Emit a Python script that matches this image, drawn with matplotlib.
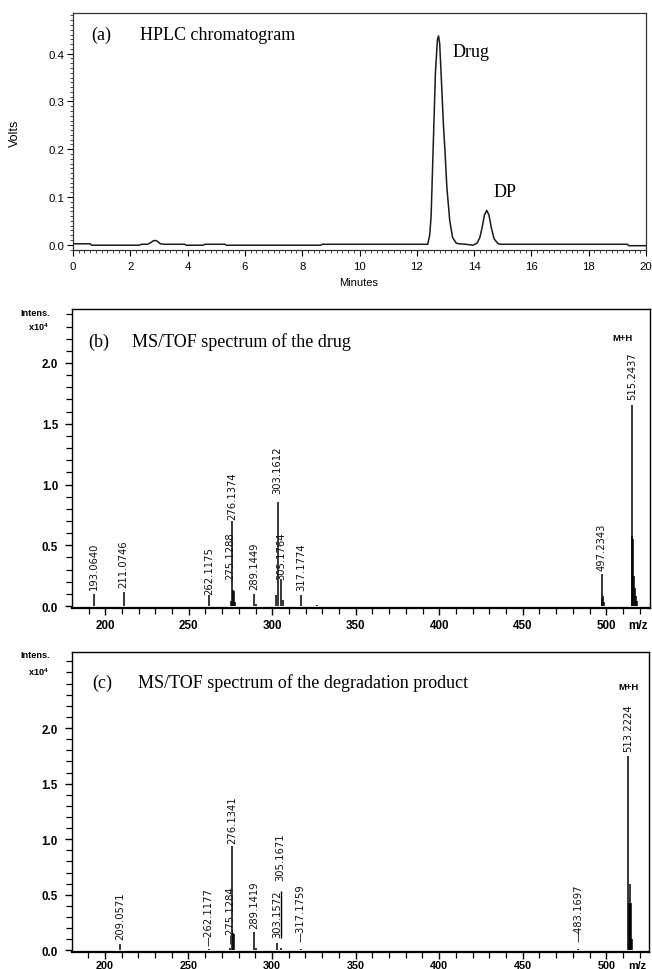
import matplotlib
matplotlib.use('Agg')
import matplotlib.pyplot as plt
from matplotlib.ticker import MultipleLocator

plt.rcParams['mathtext.fontset'] = 'custom'
plt.rcParams['mathtext.rm'] = 'Liberation Sans'
plt.rcParams['mathtext.bf'] = 'Liberation Sans:bold'

SERIF = 'Liberation Serif'
SANS = 'Liberation Sans'
LAB = 'DejaVu Sans'

# ---------------- (a) HPLC chromatogram ----------------
t_min = [0.0, 0.6, 0.65, 2.3, 2.4, 2.6, 2.7, 2.8, 2.88, 2.95, 3.05, 3.2, 3.9, 3.95,
         4.55, 4.6, 5.3, 5.35, 8.65, 8.7, 12.38, 12.45, 12.5, 12.57, 12.65, 12.72,
         12.76, 12.8, 12.87, 12.93, 12.98, 13.05, 13.15, 13.25, 13.38, 13.5, 13.85,
         13.95, 14.1, 14.2, 14.28, 14.36, 14.44, 14.52, 14.6, 14.7, 14.84, 14.95,
         19.35, 19.4, 20.0]
volts = [0.002, 0.002, -0.001, -0.001, 0.001, 0.001, 0.004, 0.008, 0.009, 0.007,
         0.002, 0.001, 0.001, -0.001, -0.001, 0.001, 0.001, -0.001, -0.001, 0.001,
         0.001, 0.02, 0.06, 0.2, 0.36, 0.43, 0.437, 0.42, 0.33, 0.25, 0.2, 0.12,
         0.05, 0.015, 0.003, 0.002, 0.0, -0.001, 0.003, 0.015, 0.036, 0.062, 0.072,
         0.062, 0.036, 0.012, 0.002, 0.001, 0.001, -0.002, -0.002]
a_xticks = [0, 2, 4, 6, 8, 10, 12, 14, 16, 18, 20]
a_yticks = [0.0, 0.1, 0.2, 0.3, 0.4]

# ---------------- (b) MS/TOF spectrum of the drug ----------------
mz_b = [193.06, 211.07, 262.12, 275.13, 276.14, 276.6, 277.14, 277.6, 289.14, 290.15,
        302.2, 303.16, 305.18, 306.18, 317.18, 327.0, 497.23, 497.7, 498.24, 498.7,
        515.24, 515.7, 516.25, 516.7, 517.25, 517.7, 518.25]
int_b = [0.10, 0.115, 0.09, 0.04, 0.70, 0.13, 0.12, 0.03, 0.10, 0.02,
         0.09, 0.855, 0.22, 0.05, 0.09, 0.01, 0.265, 0.06, 0.08, 0.03,
         1.655, 0.58, 0.55, 0.25, 0.15, 0.08, 0.04]
lab_b_mz = [193.064, 211.0746, 262.1175, 275.1288, 276.1374, 289.1449, 303.1612,
            305.1764, 317.1774, 497.2343, 515.2437]
lab_b_y = [0.14, 0.16, 0.10, 0.22, 0.72, 0.14, 0.93, 0.22, 0.13, 0.30, 1.70]
lab_b_txt = ['193.0640', '211.0746', '262.1175', '275.1288', '276.1374', '289.1449',
             '303.1612', '305.1764', '317.1774', '497.2343', '515.2437']

# ---------------- (c) MS/TOF spectrum of the degradation product ----------------
mz_c = [209.06, 262.12, 275.13, 276.13, 276.6, 277.14, 289.14, 290.14, 303.16, 305.17,
        317.18, 483.17, 513.22, 513.6, 514.0, 514.23, 514.6, 515.0, 515.23]
int_c = [0.057, 0.01, 0.02, 0.935, 0.16, 0.15, 0.165, 0.02, 0.066, 0.02,
         0.01, 0.01, 1.75, 0.43, 0.43, 0.60, 0.43, 0.10, 0.10]
lab_c_mz = [209.0571, 262.1177, 275.1284, 276.1341, 289.1419, 303.1572, 305.1671,
            317.1759, 483.1697, 513.2224]
lab_c_y = [0.10, 0.05, 0.066, 0.97, 0.20, 0.12, 0.635, 0.08, 0.08, 1.79]
lab_c_txt = ['209.0571', '\u2014262.1177', '\u2014275.1284', '276.1341', '289.1419',
             '303.1572', '305.1671', '\u2014317.1759', '\u2014483.1697', '513.2224']
lead_c_mz = [305.17]
lead_c_y0 = [0.11]
lead_c_y1 = [0.53]

ms_xticks = [200, 250, 300, 350, 400, 450, 500]
ms_yticks = [0.0, 0.5, 1.0, 1.5, 2.0]

W, H = 652.0, 970.0


def box(l, t, r, b):
    return [l / W, 1 - b / H, (r - l) / W, (b - t) / H]


fig = plt.figure(figsize=(6.52, 9.70), dpi=100)

# ---- panel (a)
axa = fig.add_axes(box(73, 14, 646, 251))
axa.plot(t_min, volts, color='#1a1a1a', lw=1.1)
axa.set_xlim(0, 20)
axa.set_ylim(-0.011, 0.485)
axa.set_xticks(a_xticks)
axa.set_xticklabels([str(v) for v in a_xticks])
axa.set_yticks(a_yticks)
axa.set_yticklabels(['%.1f' % v for v in a_yticks])
axa.xaxis.set_minor_locator(MultipleLocator(0.2))
axa.yaxis.set_minor_locator(MultipleLocator(0.01))
axa.tick_params(which='major', direction='out', length=4, width=0.8, labelsize=8.2, pad=2)
axa.tick_params(axis='x', which='major', pad=4)
axa.tick_params(which='minor', direction='out', length=2, width=0.5)
for lab in axa.get_xticklabels() + axa.get_yticklabels():
    lab.set_fontfamily(SANS)
for s in axa.spines.values():
    s.set_linewidth(0.9)
    s.set_color('#333333')
axa.text(0.65, 0.44, '(a)', fontfamily=SERIF, fontsize=13, va='center', ha='left')
axa.text(2.34, 0.44, 'HPLC chromatogram', fontfamily=SERIF, fontsize=13, va='center', ha='left')
axa.text(13.23, 0.405, 'Drug', fontfamily=SERIF, fontsize=13, va='center', ha='left')
axa.text(14.69, 0.112, 'DP', fontfamily=SERIF, fontsize=13, va='center', ha='left')
fig.text(15 / W, 1 - 133 / H, 'Volts', rotation=90, fontfamily=SANS, fontsize=9,
         ha='center', va='center')
fig.text(359 / W, 1 - 283 / H, 'Minutes', fontfamily=SANS, fontsize=8,
         ha='center', va='center')


def ms_panel(ax, mz, inten, lmz, ly, ltxt, ylim, tag, title, tag_x, title_x, tag_y, mh_x, mh_y,
             xpad, xsize):
    ax.vlines(mz, 0, inten, color='black', lw=1.1)
    for m, y, s in zip(lmz, ly, ltxt):
        ax.text(m, y, s, rotation=90, ha='center', va='bottom', fontfamily=LAB,
                fontsize=7.2, color='#111111')
    ax.set_xlim(180.1, 525.9)
    ax.set_ylim(*ylim)
    ax.set_xticks(ms_xticks)
    ax.set_xticklabels([str(v) for v in ms_xticks])
    ax.set_yticks(ms_yticks)
    ax.set_yticklabels(['%.1f' % v for v in ms_yticks])
    ax.xaxis.set_minor_locator(MultipleLocator(10))
    ax.yaxis.set_minor_locator(MultipleLocator(0.1))
    ax.tick_params(which='major', direction='out', length=5, width=1.0, labelsize=8.4, pad=5)
    ax.tick_params(axis='x', which='major', pad=xpad, labelsize=xsize)
    ax.tick_params(which='minor', direction='out', length=4, width=0.9)
    for lab in ax.get_xticklabels() + ax.get_yticklabels():
        lab.set_fontfamily(SANS)
        lab.set_fontweight('bold')
    for s in ax.spines.values():
        s.set_linewidth(1.0)
    ax.spines['bottom'].set_linewidth(1.6)
    ax.text(tag_x, tag_y, tag, fontfamily=SERIF, fontsize=13, va='center', ha='left')
    ax.text(title_x, tag_y, title, fontfamily=SERIF, fontsize=13, va='center', ha='left')
    ax.text(mh_x, mh_y, 'M+H', fontfamily=SANS, fontweight='bold', fontsize=6.8,
            ha='center', va='center')
    ax.annotate('m/z', xy=(518.8, 0), xycoords=('data', 'axes fraction'),
                xytext=(0, -(5 + xpad)), textcoords='offset points', fontfamily=SANS,
                fontweight='bold', fontsize=xsize, ha='center', va='top')


axb = fig.add_axes(box(72, 310, 649.5, 609))
ms_panel(axb, mz_b, int_b, lab_b_mz, lab_b_y, lab_b_txt, (-0.016, 2.444), '(b)',
         'MS/TOF spectrum of the drug', 189.7, 216.0, 2.18, 509.7, 2.21, 3, 8.4)
fig.text(35 / W, 1 - 314 / H, 'Intens.', fontfamily=SANS, fontweight='bold', fontsize=6.6,
         ha='center', va='center')
fig.text(38 / W, 1 - 327 / H, r'x10$^{\mathbf{4}}$', fontfamily=SANS, fontweight='bold',
         fontsize=6.6, ha='center', va='center')

axc = fig.add_axes(box(71.7, 652.7, 649.5, 953))
ms_panel(axc, mz_c, int_c, lab_c_mz, lab_c_y, lab_c_txt, (-0.015, 2.687), '(c)',
         'MS/TOF spectrum of the degradation product', 192.3, 219.9, 2.41, 513.4, 2.37, 0.5, 7.8)
axc.vlines(lead_c_mz, lead_c_y0, lead_c_y1, color='black', lw=1.0)
fig.text(35 / W, 1 - 656 / H, 'Intens.', fontfamily=SANS, fontweight='bold', fontsize=6.6,
         ha='center', va='center')
fig.text(38 / W, 1 - 672 / H, r'x10$^{\mathbf{4}}$', fontfamily=SANS, fontweight='bold',
         fontsize=6.6, ha='center', va='center')

fig.savefig('out.png', dpi=100)
